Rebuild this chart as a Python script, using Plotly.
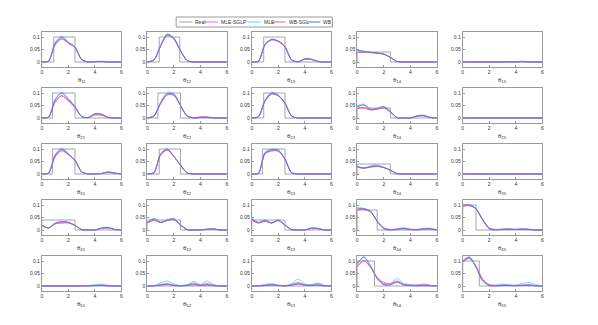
import plotly.graph_objects as go

# grid the density estimates were read on
xs = [0, 0.5, 1, 1.5, 2, 2.5, 3, 3.5, 4, 4.5, 5, 5.5, 6]

labels = ["11", "12", "13", "14", "15",
          "21", "22", "23", "24", "25",
          "31", "32", "33", "34", "35",
          "41", "42", "43", "44", "45",
          "51", "52", "53", "54", "55"]

# true (uniform) density: start, end, height
real_lo = [0.9, 0.9, 0.9, 0, 0,
           0.8, 0.8, 0.9, 0, 0,
           0.8, 0.9, 0.8, 0, 0,
           0, 0, 0, 0, 0,
           0, 0, 0, 0, 0]
real_hi = [2.5, 2.45, 2.5, 2.5, 6,
           2.5, 2.5, 2.5, 2.5, 6,
           2.5, 2.5, 2.5, 2.5, 6,
           2.5, 2.5, 2.5, 1.5, 1.0,
           6, 6, 6, 1.3, 1.25]
real_h = [0.1, 0.1, 0.1, 0.04, 0,
          0.1, 0.1, 0.1, 0.04, 0,
          0.1, 0.1, 0.1, 0.04, 0,
          0.04, 0.04, 0.04, 0.08, 0.1,
          0, 0, 0, 0.1, 0.1]

wb = [
    [0, 0.003, 0.075, 0.1, 0.078, 0.06, 0.01, 0, 0.001, 0.002, 0, 0, 0],
    [0, 0.008, 0.065, 0.11, 0.095, 0.045, 0.006, 0, 0, 0, 0, 0, 0],
    [0, 0.003, 0.07, 0.09, 0.082, 0.06, 0.008, 0.001, 0.013, 0.011, 0.002, 0, 0],
    [0.047, 0.042, 0.039, 0.036, 0.032, 0.018, 0.002, 0, 0, 0, 0, 0, 0],
    [0, 0, 0, 0, 0, 0, 0, 0, 0, 0.001, 0, 0, 0],
    [0, 0.003, 0.072, 0.1, 0.075, 0.045, 0.006, 0.002, 0.017, 0.015, 0.002, 0, 0],
    [0, 0.008, 0.06, 0.097, 0.095, 0.05, 0.008, 0, 0.002, 0.002, 0, 0, 0],
    [0, 0.005, 0.07, 0.1, 0.09, 0.06, 0.008, 0, 0, 0, 0, 0, 0],
    [0.045, 0.052, 0.035, 0.038, 0.045, 0.025, 0.001, 0, 0, 0.008, 0.01, 0.002, 0],
    [0, 0, 0, 0, 0, 0, 0, 0, 0, 0, 0, 0, 0],
    [0, 0.003, 0.075, 0.1, 0.08, 0.055, 0.008, 0, 0, 0.002, 0.008, 0.004, 0],
    [0, 0.005, 0.08, 0.1, 0.07, 0.035, 0.004, 0, 0, 0, 0, 0, 0],
    [0, 0.003, 0.085, 0.097, 0.095, 0.06, 0.005, 0, 0, 0, 0, 0, 0],
    [0.03, 0.024, 0.03, 0.033, 0.026, 0.015, 0.001, 0, 0, 0, 0, 0, 0],
    [0, 0, 0, 0, 0, 0, 0, 0, 0, 0, 0, 0, 0],
    [0.02, 0.008, 0.027, 0.033, 0.031, 0.018, 0.001, 0, 0, 0.008, 0.01, 0.002, 0],
    [0.03, 0.045, 0.03, 0.04, 0.045, 0.02, 0.001, 0, 0, 0.003, 0.004, 0, 0],
    [0.045, 0.03, 0.038, 0.028, 0.04, 0.02, 0.001, 0, 0, 0.008, 0.006, 0, 0],
    [0.085, 0.085, 0.075, 0.035, 0.005, 0, 0.002, 0.006, 0.002, 0, 0.004, 0.005, 0],
    [0.1, 0.1, 0.085, 0.04, 0.005, 0, 0.002, 0.003, 0.002, 0.003, 0.002, 0, 0],
    [0, 0, 0, 0, 0, 0, 0, 0, 0.001, 0.002, 0, 0, 0],
    [0, 0, 0.004, 0.006, 0.002, 0, 0.002, 0.005, 0.002, 0.004, 0.001, 0, 0],
    [0, 0, 0.002, 0.004, 0.002, 0, 0.003, 0.008, 0.003, 0.002, 0.003, 0, 0],
    [0.09, 0.115, 0.08, 0.03, 0.005, 0.005, 0.015, 0.004, 0.002, 0.001, 0.001, 0.001, 0],
    [0.1, 0.115, 0.075, 0.02, 0.002, 0, 0.002, 0.002, 0.001, 0.002, 0.003, 0.001, 0],
]

mle = [
    [0, 0.003, 0.078, 0.104, 0.08, 0.06, 0.01, 0, 0.001, 0.002, 0, 0, 0],
    [0, 0.008, 0.067, 0.113, 0.097, 0.046, 0.006, 0, 0, 0, 0, 0, 0],
    [0, 0.003, 0.072, 0.092, 0.083, 0.06, 0.008, 0.001, 0.013, 0.011, 0.002, 0, 0],
    [0.05, 0.043, 0.039, 0.036, 0.032, 0.018, 0.002, 0, 0, 0, 0, 0, 0],
    [0, 0, 0, 0, 0, 0, 0, 0, 0.001, 0.001, 0, 0, 0],
    [0, 0.003, 0.074, 0.102, 0.078, 0.046, 0.006, 0.002, 0.018, 0.016, 0.002, 0, 0],
    [0, 0.008, 0.062, 0.103, 0.098, 0.05, 0.008, 0, 0.002, 0.002, 0, 0, 0],
    [0, 0.005, 0.072, 0.103, 0.092, 0.06, 0.008, 0, 0, 0, 0, 0, 0],
    [0.048, 0.056, 0.035, 0.038, 0.047, 0.026, 0.001, 0, 0, 0.009, 0.012, 0.002, 0],
    [0, 0, 0, 0.001, 0, 0, 0, 0, 0, 0, 0, 0, 0],
    [0, 0.003, 0.078, 0.103, 0.082, 0.055, 0.008, 0, 0, 0.002, 0.009, 0.004, 0],
    [0, 0.005, 0.08, 0.1, 0.072, 0.036, 0.004, 0, 0, 0, 0, 0, 0],
    [0, 0.003, 0.087, 0.1, 0.097, 0.06, 0.005, 0, 0, 0, 0, 0, 0],
    [0.03, 0.025, 0.032, 0.036, 0.027, 0.015, 0.001, 0, 0, 0, 0, 0, 0],
    [0, 0, 0, 0, 0, 0, 0, 0.001, 0, 0, 0, 0, 0],
    [0.02, 0.008, 0.028, 0.034, 0.031, 0.018, 0.001, 0, 0, 0.009, 0.011, 0.002, 0],
    [0.03, 0.047, 0.032, 0.04, 0.046, 0.02, 0.001, 0, 0, 0.003, 0.005, 0, 0],
    [0.047, 0.03, 0.04, 0.028, 0.04, 0.02, 0.001, 0, 0, 0.009, 0.006, 0, 0],
    [0.09, 0.087, 0.075, 0.035, 0.006, 0, 0.004, 0.01, 0.003, 0.002, 0.006, 0.008, 0],
    [0.1, 0.1, 0.087, 0.04, 0.005, 0, 0.004, 0.005, 0.002, 0.006, 0.003, 0, 0],
    [0, 0, 0, 0, 0, 0.001, 0.001, 0.002, 0.005, 0.008, 0.003, 0, 0],
    [0, 0.002, 0.012, 0.02, 0.008, 0.002, 0.006, 0.018, 0.006, 0.02, 0.006, 0, 0],
    [0, 0.001, 0.006, 0.01, 0.004, 0.001, 0.01, 0.028, 0.008, 0.006, 0.012, 0.002, 0],
    [0.085, 0.118, 0.08, 0.03, 0.006, 0.01, 0.03, 0.01, 0.006, 0.002, 0.002, 0.001, 0],
    [0.095, 0.117, 0.08, 0.025, 0.004, 0.003, 0.008, 0.004, 0.003, 0.01, 0.014, 0.006, 0],
]

mle_sglp = [
    [0, 0.003, 0.07, 0.094, 0.076, 0.058, 0.01, 0, 0.002, 0.003, 0, 0, 0],
    [0, 0.008, 0.063, 0.108, 0.093, 0.045, 0.006, 0, 0, 0, 0, 0, 0],
    [0, 0.003, 0.07, 0.09, 0.085, 0.062, 0.009, 0.001, 0.012, 0.01, 0.002, 0, 0],
    [0.04, 0.04, 0.038, 0.036, 0.032, 0.018, 0.002, 0, 0, 0, 0, 0, 0],
    [0, 0, 0, 0, 0, 0, 0, 0.001, 0, 0.002, 0.001, 0, 0],
    [0, 0.003, 0.065, 0.09, 0.07, 0.042, 0.006, 0.002, 0.013, 0.012, 0.002, 0, 0],
    [0, 0.008, 0.058, 0.093, 0.092, 0.05, 0.009, 0.001, 0.005, 0.005, 0.001, 0, 0],
    [0, 0.005, 0.068, 0.097, 0.09, 0.06, 0.008, 0, 0, 0, 0, 0, 0],
    [0.04, 0.042, 0.033, 0.036, 0.04, 0.024, 0.002, 0, 0, 0.007, 0.009, 0.002, 0],
    [0, 0, 0.001, 0, 0, 0, 0, 0, 0.001, 0, 0, 0, 0],
    [0, 0.003, 0.07, 0.095, 0.078, 0.055, 0.009, 0, 0, 0.002, 0.007, 0.003, 0],
    [0, 0.005, 0.077, 0.096, 0.07, 0.036, 0.005, 0, 0, 0, 0, 0, 0],
    [0, 0.003, 0.082, 0.093, 0.092, 0.06, 0.006, 0, 0, 0, 0, 0, 0],
    [0.028, 0.023, 0.028, 0.031, 0.026, 0.015, 0.002, 0, 0, 0, 0, 0, 0],
    [0, 0, 0, 0, 0.001, 0, 0, 0, 0, 0, 0, 0, 0],
    [0.018, 0.008, 0.025, 0.029, 0.029, 0.018, 0.002, 0, 0, 0.006, 0.008, 0.002, 0],
    [0.028, 0.04, 0.03, 0.038, 0.042, 0.02, 0.002, 0, 0, 0.004, 0.004, 0, 0],
    [0.04, 0.028, 0.036, 0.028, 0.038, 0.02, 0.002, 0, 0, 0.007, 0.006, 0, 0],
    [0.08, 0.082, 0.072, 0.036, 0.008, 0.002, 0.004, 0.006, 0.003, 0.002, 0.006, 0.004, 0],
    [0.095, 0.098, 0.085, 0.042, 0.008, 0.002, 0.003, 0.004, 0.003, 0.004, 0.003, 0, 0],
    [0, 0, 0, 0, 0, 0, 0.001, 0.002, 0.003, 0.004, 0.002, 0, 0],
    [0, 0.001, 0.006, 0.01, 0.004, 0.001, 0.004, 0.012, 0.004, 0.01, 0.004, 0, 0],
    [0, 0.001, 0.004, 0.006, 0.003, 0.001, 0.006, 0.015, 0.005, 0.004, 0.01, 0.002, 0],
    [0.075, 0.1, 0.075, 0.035, 0.015, 0.01, 0.02, 0.008, 0.003, 0.004, 0.008, 0.003, 0],
    [0.095, 0.11, 0.08, 0.028, 0.006, 0.003, 0.004, 0.003, 0.002, 0.004, 0.005, 0.002, 0],
]

wb_sgl = [
    [0, 0.003, 0.068, 0.092, 0.075, 0.057, 0.01, 0, 0.001, 0.002, 0, 0, 0],
    [0, 0.008, 0.062, 0.106, 0.092, 0.045, 0.006, 0, 0, 0, 0, 0, 0],
    [0, 0.003, 0.068, 0.088, 0.084, 0.062, 0.009, 0.001, 0.011, 0.01, 0.002, 0, 0],
    [0.038, 0.039, 0.037, 0.035, 0.031, 0.018, 0.002, 0, 0, 0, 0, 0, 0],
    [0, 0, 0, 0, 0, 0, 0, 0.002, 0, 0.003, 0.001, 0, 0],
    [0, 0.003, 0.063, 0.088, 0.068, 0.042, 0.006, 0.002, 0.012, 0.011, 0.002, 0, 0],
    [0, 0.008, 0.057, 0.092, 0.09, 0.05, 0.008, 0.001, 0.003, 0.003, 0.001, 0, 0],
    [0, 0.005, 0.067, 0.095, 0.088, 0.06, 0.008, 0, 0, 0, 0, 0, 0],
    [0.038, 0.04, 0.032, 0.035, 0.04, 0.024, 0.002, 0, 0, 0.007, 0.008, 0.002, 0],
    [0, 0, 0, 0, 0, 0, 0, 0.001, 0, 0.001, 0, 0, 0],
    [0, 0.003, 0.068, 0.093, 0.077, 0.055, 0.009, 0, 0, 0.002, 0.007, 0.003, 0],
    [0, 0.005, 0.075, 0.095, 0.07, 0.036, 0.005, 0, 0, 0, 0, 0, 0],
    [0, 0.003, 0.08, 0.092, 0.091, 0.06, 0.006, 0, 0, 0, 0, 0, 0],
    [0.027, 0.023, 0.027, 0.03, 0.026, 0.015, 0.002, 0, 0, 0, 0, 0, 0],
    [0, 0, 0, 0, 0, 0.001, 0, 0, 0, 0, 0, 0, 0],
    [0.018, 0.008, 0.024, 0.028, 0.028, 0.018, 0.002, 0, 0, 0.006, 0.008, 0.002, 0],
    [0.028, 0.038, 0.03, 0.037, 0.041, 0.02, 0.002, 0, 0, 0.003, 0.004, 0, 0],
    [0.038, 0.028, 0.035, 0.028, 0.037, 0.02, 0.002, 0, 0, 0.006, 0.005, 0, 0],
    [0.08, 0.082, 0.072, 0.036, 0.008, 0.002, 0.003, 0.005, 0.002, 0.001, 0.004, 0.003, 0],
    [0.095, 0.097, 0.085, 0.042, 0.008, 0.002, 0.003, 0.003, 0.002, 0.003, 0.002, 0, 0],
    [0, 0, 0, 0, 0, 0, 0.001, 0.001, 0.002, 0.003, 0.001, 0, 0],
    [0, 0.001, 0.004, 0.007, 0.003, 0.001, 0.003, 0.008, 0.003, 0.006, 0.002, 0, 0],
    [0, 0.001, 0.003, 0.005, 0.002, 0.001, 0.004, 0.01, 0.004, 0.003, 0.006, 0.001, 0],
    [0.078, 0.102, 0.076, 0.033, 0.01, 0.008, 0.017, 0.006, 0.003, 0.003, 0.005, 0.002, 0],
    [0.1, 0.112, 0.078, 0.025, 0.005, 0.002, 0.003, 0.003, 0.002, 0.003, 0.004, 0.001, 0],
]

series = [("MLE-SGLP", mle_sglp, "#ff5cff"),
          ("MLE", mle, "#3fe3ff"),
          ("WB-SGL", wb_sgl, "#ff6060"),
          ("WB", wb, "#5a68ff")]
real_color = "#a6a6a6"

W, H = 598, 325
lefts = [33, 139, 244, 350, 456]
tops = [24, 80, 136, 192, 248]
pw, ph = 80, 35

fig = go.Figure()
annotations = []
tick_font = dict(family="Liberation Sans", size=5, color="#333333")

for k, lab in enumerate(labels):
    r, c = divmod(k, 5)
    n = k + 1
    xa = "x" if n == 1 else "x%d" % n
    ya = "y" if n == 1 else "y%d" % n

    a, b, h = real_lo[k], real_hi[k], real_h[k]
    fig.add_trace(go.Scatter(x=[0, a, a, b, b, 6], y=[0, 0, h, h, 0, 0],
                             mode="lines", line=dict(color=real_color, width=1),
                             xaxis=xa, yaxis=ya, showlegend=False, hoverinfo="skip"))
    for name, data, col in series:
        fig.add_trace(go.Scatter(x=xs, y=data[k], mode="lines", name=name,
                                 line=dict(color=col, width=0.9, shape="spline", smoothing=0.8),
                                 xaxis=xa, yaxis=ya, showlegend=False))

    x0 = lefts[c] / W
    x1 = (lefts[c] + pw) / W
    y1 = 1 - tops[r] / H
    y0 = 1 - (tops[r] + ph) / H
    axis_common = dict(showline=True, linecolor="#9a9a9a", linewidth=1, mirror=True,
                       ticks="inside", ticklen=2, tickcolor="#9a9a9a", showgrid=False,
                       zeroline=False, tickfont=tick_font)
    fig.layout["xaxis" if n == 1 else "xaxis%d" % n] = dict(
        domain=[x0, x1], anchor=ya, range=[0, 6], tickvals=[0, 2, 4, 6], **axis_common)
    fig.layout["yaxis" if n == 1 else "yaxis%d" % n] = dict(
        domain=[y0, y1], anchor=xa, range=[-0.02, 0.12], tickvals=[0, 0.05, 0.1],
        ticktext=["0", "0.05", "0.1"], **axis_common)

    annotations.append(dict(x=(x0 + x1) / 2, y=1 - (tops[r] + ph + 8) / H,
                            xref="paper", yref="paper", xanchor="center", yanchor="top",
                            text="θ<sub>%s</sub>" % lab, showarrow=False,
                            font=dict(family="Liberation Sans", size=6, color="#333333")))

# legend box drawn by hand so it stays compact
shapes = [dict(type="rect", xref="paper", yref="paper",
               x0=168 / W, x1=325 / W, y0=1 - 19 / H, y1=1 - 9 / H,
               line=dict(color="#9a9a9a", width=1), fillcolor="white")]
leg_items = [("Real", real_color, 171), ("MLE-SGLP", "#ff5cff", 197),
             ("MLE", "#3fe3ff", 240), ("WB-SGL", "#ff6060", 265), ("WB", "#5a68ff", 300)]
for name, col, lx in leg_items:
    shapes.append(dict(type="line", xref="paper", yref="paper",
                       x0=lx / W, x1=(lx + 13) / W, y0=1 - 14 / H, y1=1 - 14 / H,
                       line=dict(color=col, width=1)))
    annotations.append(dict(x=(lx + 14) / W, y=1 - 14 / H, xref="paper", yref="paper",
                            xanchor="left", yanchor="middle", text=name, showarrow=False,
                            font=dict(family="Liberation Sans", size=5, color="#333333")))

fig.update_layout(width=W, height=H, margin=dict(l=0, r=0, t=0, b=0),
                  plot_bgcolor="white", paper_bgcolor="white",
                  showlegend=False, annotations=annotations, shapes=shapes)

fig.write_html("out.html")
